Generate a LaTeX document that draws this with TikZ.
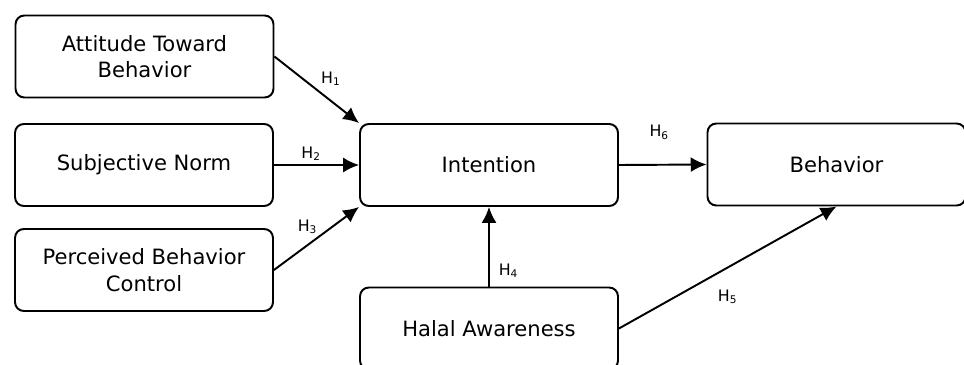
\documentclass[tikz,border=0pt]{standalone}
\usepackage{fontspec}
\setmainfont{DejaVu Sans}
\usetikzlibrary{arrows.meta}
\begin{document}
\begin{tikzpicture}[x=0.02cm, y=-0.02cm,
    box/.style={draw, line width=1.1pt, rounded corners=5pt, minimum width=5.16cm, minimum height=1.64cm, align=center, font=\fontsize{12}{15}\selectfont},
    hyp/.style={font=\fontsize{9}{10}\selectfont, inner sep=2pt},
    path/.style={->, line width=1.1pt}]
    \tikzset{>={Latex[length=9pt,width=8.5pt]}}
    \useasboundingbox (0,0) rectangle (964,365);
    \begin{scope}
    \clip (0,0) rectangle (964,365);
    \node[box] (att) at (144.5,56.5) {Attitude Toward\\Behavior};
    \node[box] (sub) at (144,165) {Subjective Norm};
    \node[box] (pbc) at (144,270) {Perceived Behavior\\Control};
    \node[box] (int) at (489,165) {Intention};
    \node[box] (beh) at (836.5,164.5) {Behavior};
    \node[box] (hal) at (489,328.5) {Halal Awareness};
    \end{scope}
    \draw[path] (att.east) -- (int.north west) node[hyp, midway, above right] {H\textsubscript{1}};
    \draw[path] (sub.east) -- (int.west) node[hyp, midway, above, xshift=-3pt] {H\textsubscript{2}};
    \draw[path] (pbc.east) -- (int.south west) node[hyp, midway, above left, xshift=3pt] {H\textsubscript{3}};
    \draw[path] (hal.north) -- (int.south) node[hyp, pos=0.2, right, xshift=3pt] {H\textsubscript{4}};
    \draw[path] (hal.east) -- (beh.south) node[hyp, pos=0.5, below, yshift=-10pt] {H\textsubscript{5}};
    \draw[path] (int.east) -- (beh.west) node[hyp, midway, above, yshift=12pt, xshift=-2pt] {H\textsubscript{6}};
\end{tikzpicture}
\end{document}
